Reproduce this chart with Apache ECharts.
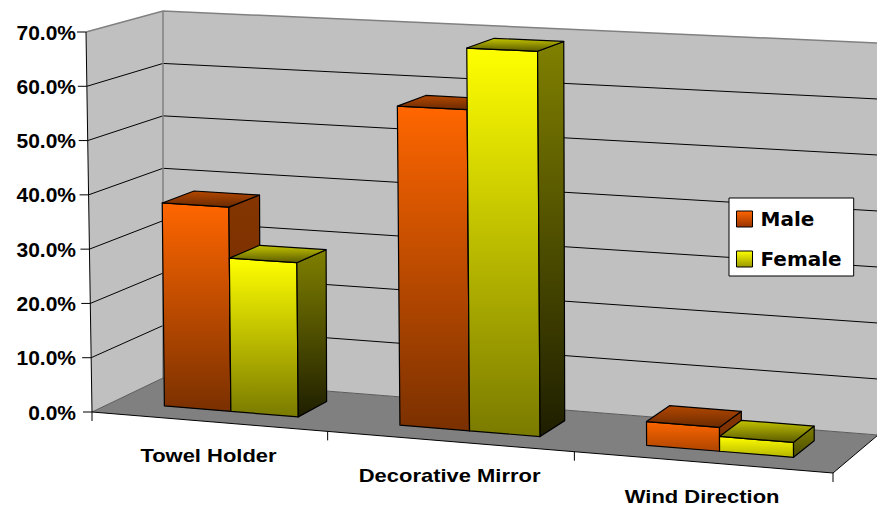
<!DOCTYPE html>
<html lang="en">
  <head>
    <meta charset="UTF-8" />
    <title>Male / Female 3D columns</title>
    <script src="https://cdn.jsdelivr.net/npm/echarts@6.0.0/dist/echarts.min.js"></script>
    <style>
      html, body { margin: 0; padding: 0; background: #fff; }
    </style>
  </head>
  <body>
    <div id="main" style="width: 877px; height: 507px"></div>
    <script type="text/javascript">
      const categories = ["Towel Holder", "Decorative Mirror", "Wind Direction"];
      const male = [0.376, 0.578, 0.042];
      const female = [0.282, 0.689, 0.026];
      const yTicks = [0, 0.1, 0.2, 0.3, 0.4, 0.5, 0.6, 0.7];

      // corners of the 3D box (front plane and back plane), used to project the flat grid
      const FRONT = { lt: [86, 32], rt: [831, 66], lb: [92, 412], rb: [833, 473] };
      const BACK = { lt: [163, 11], rt: [878, 43], lb: [163, 378], rb: [878, 435] };
      const PERSP = -0.0674;   // foreshortening along the category axis
      const BAR_W = 0.287;     // share of a category band per bar
      const BAR_SHIFT = 0.01;  // pair offset inside the band
      const DEPTH_FRONT = 0.3;
      const DEPTH_BACK = 0.74;

      function lerp(a, b, t) {
        return [a[0] + (b[0] - a[0]) * t, a[1] + (b[1] - a[1]) * t];
      }
      function plane(q, u, v) {
        return lerp(lerp(q.lb, q.rb, u), lerp(q.lt, q.rt, u), v);
      }
      function proj(u, v, w) {
        const uu = (u * (1 + PERSP)) / (1 + PERSP * u);
        return lerp(plane(FRONT, uu, v), plane(BACK, uu, v), w);
      }
      function mix(c1, c2, t) {
        const a = parseInt(c1.slice(1), 16), b = parseInt(c2.slice(1), 16);
        const ch = (s) => Math.round(((a >> s) & 255) + (((b >> s) & 255) - ((a >> s) & 255)) * t);
        return "rgb(" + ch(16) + "," + ch(8) + "," + ch(0) + ")";
      }
      function vgrad(c1, c2) {
        return { type: "linear", x: 0, y: 0, x2: 0, y2: 1, colorStops: [{ offset: 0, color: c1 }, { offset: 1, color: c2 }] };
      }

      const palette = {
        Male: { front: ["#ff6600", "#7a3000"], side: ["#843500", "#702c00"], top: ["#b44800", "#6a2a00"] },
        Female: { front: ["#ffff00", "#7a7a00"], side: ["#808000", "#1e1e00"], top: ["#c4c400", "#5a5a00"] }
      };

      function poly(pts, style) {
        return { type: "polygon", shape: { points: pts }, style: style };
      }
      function pline(pts, stroke, w) {
        return { type: "polyline", shape: { points: pts }, style: { stroke: stroke, lineWidth: w || 1, fill: null } };
      }

      function renderFrame(params, api) {
        const rect = params.coordSys;
        const bw = api.size([1, 0])[0];
        const vOf = (t) => (rect.y + rect.height - api.coord([0, t])[1]) / rect.height;
        const ch = [];
        ch.push(poly([proj(0, 0, 0), proj(1, 0, 0), proj(1, 0, 1), proj(0, 0, 1)], { fill: "#808080" }));
        ch.push(poly([proj(0, 0, 0), proj(0, 1, 0), proj(0, 1, 1), proj(0, 0, 1)], { fill: "#c0c0c0" }));
        ch.push(poly([proj(0, 0, 1), proj(1, 0, 1), proj(1, 1, 1), proj(0, 1, 1)], { fill: "#c0c0c0" }));
        yTicks.forEach((t) => {
          const v = vOf(t);
          if (t > 0 && v < 0.999) {
            ch.push(pline([proj(0, v, 0), proj(0, v, 1), proj(1, v, 1)], "#000", 1));
          }
          const p = proj(0, v, 0);
          ch.push(pline([[p[0] - 9, p[1]], p], "#000", 1));
        });
        ch.push(pline([proj(0, 1, 0), proj(0, 1, 1), proj(1, 1, 1)], "#808080", 1.5));
        ch.push(pline([proj(0, 0, 1), proj(0, 1, 1)], "#808080", 1.5));
        ch.push(pline([proj(0, 0, 0), proj(0, 0, 1), proj(1, 0, 1)], "#5a5a5a", 1));
        ch.push(pline([proj(0, 1, 0), proj(0, 0, 0), proj(1, 0, 0), proj(1, 0, 1)], "#000", 1));
        for (let i = 0; i <= categories.length; i++) {
          const x = api.coord([Math.min(i, categories.length - 1), 0])[0] + (i < categories.length ? -bw / 2 : bw / 2);
          const p = proj((x - rect.x) / rect.width, 0, 0);
          ch.push(pline([p, [p[0], p[1] + 9]], "#000", 1));
        }
        return { type: "group", children: ch };
      }

      function barRenderer(name, slot) {
        const c = palette[name];
        return function (params, api) {
          const rect = params.coordSys;
          const cat = api.value(0);
          const val = api.value(1);
          const base = api.coord([cat, 0]);
          const top = api.coord([cat, val]);
          const bw = api.size([1, 0])[0];
          const x0 = base[0] + (BAR_SHIFT + (slot - 1) * BAR_W) * bw;
          const x1 = x0 + BAR_W * bw;
          const u0 = (x0 - rect.x) / rect.width;
          const u1 = (x1 - rect.x) / rect.width;
          const v = (base[1] - top[1]) / rect.height;
          const w0 = DEPTH_FRONT, w1 = DEPTH_BACK;
          const k = Math.min(1, 0.45 + val / 0.25);
          const edge = { stroke: "#000", lineWidth: 1.2, lineJoin: "round" };
          return {
            type: "group",
            children: [
              poly([proj(u0, v, w0), proj(u1, v, w0), proj(u1, 0, w0), proj(u0, 0, w0)],
                Object.assign({ fill: vgrad(c.front[0], mix(c.front[0], c.front[1], k)) }, edge)),
              poly([proj(u1, v, w0), proj(u1, v, w1), proj(u1, 0, w1), proj(u1, 0, w0)],
                Object.assign({ fill: vgrad(c.side[0], mix(c.side[0], c.side[1], k)) }, edge)),
              poly([proj(u0, v, w1), proj(u1, v, w1), proj(u1, v, w0), proj(u0, v, w0)],
                Object.assign({ fill: vgrad(c.top[0], c.top[1]) }, edge))
            ]
          };
        };
      }

      function renderLabel(params, api) {
        const rect = params.coordSys;
        const i = api.value(0);
        const pos = api.coord([i, 0]);
        const p = proj((pos[0] - rect.x) / rect.width, 0, 0);
        return {
          type: "text",
          x: p[0],
          y: p[1] + 34.5,
          scaleX: 1.22,
          style: {
            text: categories[i],
            fill: "#000",
            font: "bold 18px 'Liberation Sans', Arial, sans-serif",
            align: "center",
            verticalAlign: "middle"
          }
        };
      }

      var myChart = echarts.init(document.getElementById("main"), null, { renderer: "svg" });

      var option = {
        animation: false,
        backgroundColor: "#fff",
        grid: { left: 89, right: 44, top: 32, bottom: 95 },
        xAxis: { type: "category", data: categories, show: false },
        yAxis: {
          type: "value",
          min: 0,
          max: 0.7,
          interval: 0.1,
          axisLine: { show: false },
          axisTick: { show: false },
          splitLine: { show: false },
          axisLabel: {
            margin: 13,
            color: "#000",
            fontSize: 21,
            fontWeight: "bold",
            fontFamily: "Liberation Sans",
            formatter: (v) => (v * 100).toFixed(1) + "%"
          }
        },
        legend: {
          orient: "vertical",
          left: 729,
          top: 198,
          padding: [11, 12, 7, 7],
          itemGap: 20,
          itemWidth: 16,
          itemHeight: 16,
          backgroundColor: "#fff",
          borderColor: "#000",
          borderWidth: 1,
          selectedMode: false,
          textStyle: { fontFamily: "DejaVu Sans", fontWeight: "bold", fontSize: 20, color: "#000", padding: [0, 0, 0, 3] },
          data: [
            { name: "Male", icon: "rect", itemStyle: { color: vgrad("#ff6600", "#993300"), borderColor: "#000", borderWidth: 1 } },
            { name: "Female", icon: "rect", itemStyle: { color: vgrad("#ffff00", "#999900"), borderColor: "#000", borderWidth: 1 } }
          ]
        },
        series: [
          { name: "frame", type: "custom", z: 1, silent: true, renderItem: renderFrame, data: [[0, 0]], encode: { x: 0, y: 1 } },
          { name: "Male", type: "custom", z: 2, silent: true, renderItem: barRenderer("Male", 0), itemStyle: { color: "#ff6600" },
            data: male.map((v, i) => [i, v]), encode: { x: 0, y: 1 } },
          { name: "Female", type: "custom", z: 2, silent: true, renderItem: barRenderer("Female", 1), itemStyle: { color: "#ffff00" },
            data: female.map((v, i) => [i, v]), encode: { x: 0, y: 1 } },
          { name: "labels", type: "custom", z: 2, silent: true, renderItem: renderLabel,
            data: categories.map((c, i) => [i, 0]), encode: { x: 0, y: 1 } }
        ]
      };

      myChart.setOption(option);
    </script>
  </body>
</html>
